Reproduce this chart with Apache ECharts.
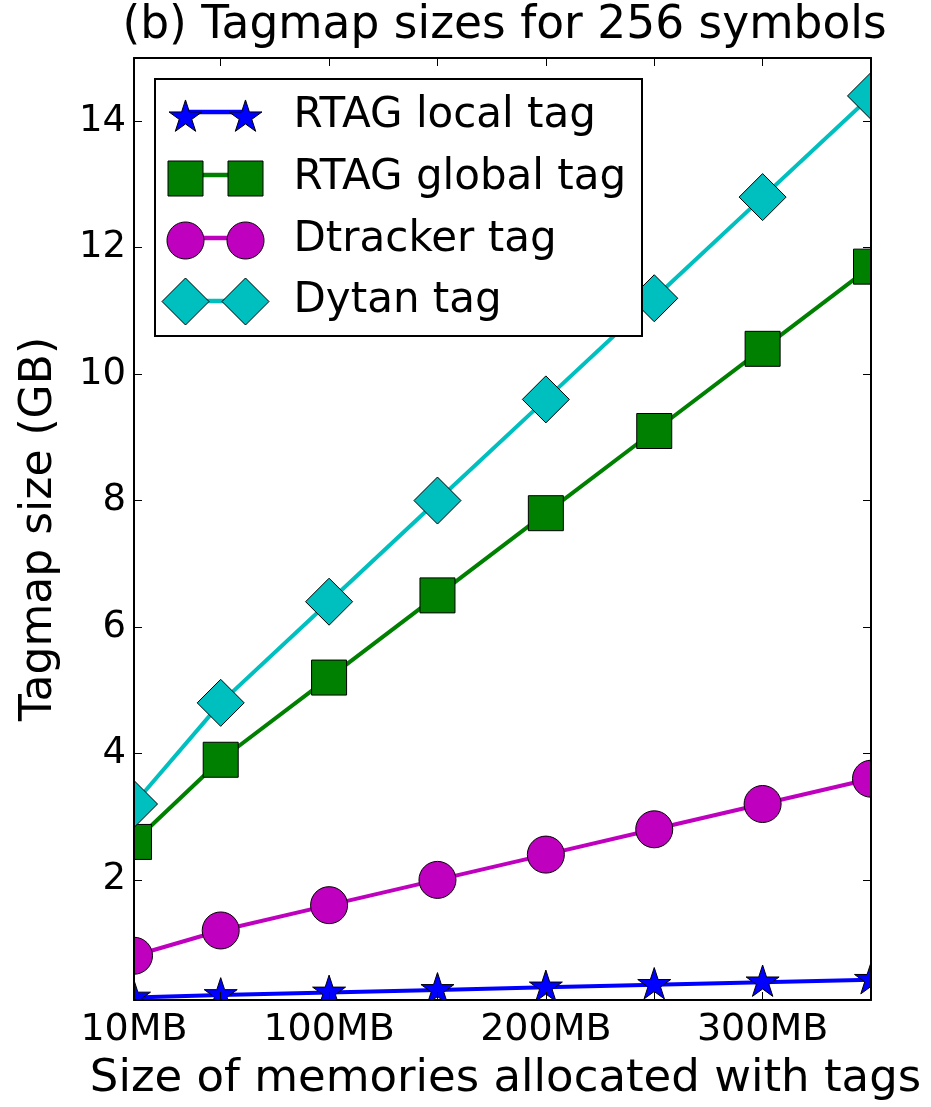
<!DOCTYPE html>
<html>
<head>
<meta charset="utf-8">
<script src="https://cdn.jsdelivr.net/npm/echarts@6/dist/echarts.min.js"></script>
<style>
html,body{margin:0;padding:0;background:#fff;}
#chart{width:931px;height:1107px;}
</style>
</head>
<body>
<div id="chart"></div>
<script>
// ---- data ----
const xValues = [10, 50, 100, 150, 200, 250, 300, 350];
const rtagLocal = [0.14, 0.18, 0.22, 0.26, 0.30, 0.34, 0.38, 0.42];
const rtagGlobal = [2.6, 3.9, 5.2, 6.5, 7.8, 9.1, 10.4, 11.7];
const dtracker = [0.8, 1.2, 1.6, 2.0, 2.4, 2.8, 3.2, 3.6];
const dytan = [3.2, 4.8, 6.4, 8.0, 9.6, 11.2, 12.8, 14.4];
const seriesNames = ['RTAG local tag', 'RTAG global tag', 'Dtracker tag', 'Dytan tag'];
const xTickValues = [50, 100, 150, 200, 250, 300];
const xLabelValues = [10, 100, 200, 300];
const xTickLabels = ['10MB', '100MB', '200MB', '300MB'];
const yTickValues = [2, 4, 6, 8, 10, 12, 14];
const yTickLabels = ['2', '4', '6', '8', '10', '12', '14'];
const titleText = '(b) Tagmap sizes for 256 symbols';
const xName = 'Size of memories allocated with tags';
const yName = 'Tagmap size (GB)';

// ---- layout / style ----
const W = 931, H = 1107;
const GL = 134, GR = 60, GT = 58, GB = 106;
const FONT = 'DejaVu Sans';
const colors = ['#0000ff', '#008000', '#bf00bf', '#00bfbf'];
const markerSizes = [33, 35, 37, 47];

function starPts(cx, cy, size) {
  const R = size / 1.902;
  const pts = [];
  for (let k = 0; k < 10; k++) {
    const ang = (-90 + 36 * k) * Math.PI / 180;
    const r = k % 2 === 0 ? R : R * 0.381966;
    pts.push([cx + r * Math.cos(ang), cy + r * Math.sin(ang)]);
  }
  return pts;
}
function rectPts(cx, cy, s) { const h = s / 2; return [[cx - h, cy - h], [cx + h, cy - h], [cx + h, cy + h], [cx - h, cy + h]]; }
function circPts(cx, cy, s) { const r = s / 2, pts = []; for (let k = 0; k < 48; k++) { const a = k / 48 * 2 * Math.PI; pts.push([cx + r * Math.cos(a), cy + r * Math.sin(a)]); } return pts; }
function diamPts(cx, cy, s) { const h = s / 2; return [[cx, cy - h], [cx + h, cy], [cx, cy + h], [cx - h, cy]]; }
const shapeFns = [starPts, rectPts, circPts, diamPts];

const starSym = (function () {
  const p = starPts(100, 100, 190.2);
  return 'path://M' + p.map(q => q[0].toFixed(2) + ' ' + q[1].toFixed(2)).join('L') + 'Z';
})();
const seriesSymbols = [starSym, 'rect', 'circle', 'diamond'];

// legend rows
const legBox = { x: 155, y: 79, w: 487, h: 257 };
const rowCenters = [112, 175, 238, 301];
const mark1X = 185, markGap = 60, textX = 293, barH = 4.5;

function pairIcon(i) {
  const a = shapeFns[i](0, 0, markerSizes[i]);
  const b = shapeFns[i](markGap, 0, markerSizes[i]);
  const all = a.concat(b);
  const minX = Math.min(...all.map(p => p[0])), maxX = Math.max(...all.map(p => p[0]));
  const minY = Math.min(...all.map(p => p[1])), maxY = Math.max(...all.map(p => p[1]));
  const f = pts => 'M' + pts.map(p => (p[0] - minX).toFixed(2) + ' ' + (p[1] - minY).toFixed(2)).join('L') + 'Z';
  return { path: 'path://' + f(a) + f(b), w: maxX - minX, h: maxY - minY, minX, minY };
}

const seriesData = [rtagLocal, rtagGlobal, dtracker, dytan];

const legends = [];
seriesNames.forEach((n, i) => {
  // connecting line of the legend key
  legends.push({
    orient: 'horizontal', left: mark1X, top: rowCenters[i] - barH / 2, padding: 0,
    itemWidth: markGap, itemHeight: barH, itemGap: 0, selectedMode: false, z: 12,
    formatter: function () { return ''; },
    textStyle: { fontSize: 1, color: 'rgba(0,0,0,0)' },
    data: [{ name: n, icon: 'path://M0 0H60V4.5H0Z', itemStyle: { color: colors[i], borderWidth: 0 } }]
  });
  const ic = pairIcon(i);
  const left = mark1X + ic.minX;
  const top = rowCenters[i] + ic.minY;
  const pad = textX - (left + ic.w + 5);
  legends.push({
    orient: 'horizontal', left: left, top: top, padding: 0,
    itemWidth: ic.w, itemHeight: ic.h, itemGap: 0, selectedMode: false, z: 13,
    textStyle: { fontSize: 42, fontFamily: FONT, color: '#000', padding: [0, 0, 0, pad] },
    data: [{ name: n, icon: ic.path, itemStyle: { color: colors[i], borderColor: '#000', borderWidth: 1 } }]
  });
});

const series = seriesNames.map((n, i) => ({
  name: n, type: 'line',
  data: xValues.map((x, k) => [x, seriesData[i][k]]),
  symbol: seriesSymbols[i], symbolSize: markerSizes[i], symbolKeepAspect: true,
  symbolOffset: i === 0 ? [0, -1.6] : [0, 0],
  showAllSymbol: true,
  lineStyle: { color: colors[i], width: 4 },
  itemStyle: { color: colors[i], borderColor: '#000', borderWidth: 1 },
  emphasis: { disabled: true }, z: 2
}));

const axisLineStyle = { color: '#000', width: 2 };
const tickStyle = { color: '#000', width: 1 };
const xLabelFmt = v => { const k = xLabelValues.indexOf(v); return k >= 0 ? xTickLabels[k] : ''; };
const yLabelFmt = v => { const k = yTickValues.indexOf(v); return k >= 0 ? yTickLabels[k] : ''; };

const covers = [
  { x: 0, y: 0, w: GL, h: H },
  { x: W - GR, y: 0, w: GR, h: H },
  { x: 0, y: 0, w: W, h: GT },
  { x: 0, y: H - GB, w: W, h: GB }
].map(r => ({ type: 'rect', z: 5, silent: true, shape: { x: r.x, y: r.y, width: r.w, height: r.h }, style: { fill: '#fff' } }));

const option = {
  animation: false,
  backgroundColor: '#fff',
  title: {
    text: titleText, left: (GL + W - GR) / 2 + 2, textAlign: 'center', top: 3, padding: 0, z: 10,
    textStyle: { fontSize: 45.5, fontWeight: 'normal', fontFamily: FONT, color: '#000' }
  },
  grid: { left: GL, right: GR, top: GT, bottom: GB, containLabel: false },
  legend: legends,
  xAxis: [{
    type: 'value', position: 'bottom', min: 10, max: 350, z: 10,
    name: xName, nameLocation: 'middle', nameGap: 57,
    nameTextStyle: { fontSize: 45, fontFamily: FONT, color: '#000', padding: [0, 0, 0, 6] },
    axisLine: { lineStyle: axisLineStyle },
    axisTick: { inside: true, length: 8, customValues: xTickValues, lineStyle: tickStyle },
    axisLabel: { customValues: xLabelValues, formatter: xLabelFmt, fontSize: 38, fontFamily: FONT, color: '#000', margin: 11 },
    splitLine: { show: false }
  }, {
    type: 'value', position: 'top', min: 10, max: 350, z: 10,
    axisLine: { lineStyle: axisLineStyle },
    axisTick: { inside: true, length: 8, customValues: xTickValues, lineStyle: tickStyle },
    axisLabel: { show: false },
    splitLine: { show: false }
  }],
  yAxis: [{
    type: 'value', position: 'left', min: 0.1, max: 15, z: 10,
    name: yName, nameLocation: 'middle', nameGap: 72, nameRotate: 90,
    nameTextStyle: { fontSize: 44, fontFamily: FONT, color: '#000' },
    axisLine: { show: true, lineStyle: axisLineStyle },
    axisTick: { show: true, inside: true, length: 8, customValues: yTickValues, lineStyle: tickStyle },
    axisLabel: { customValues: yTickValues, formatter: yLabelFmt, fontSize: 37, fontFamily: FONT, color: '#000', margin: 8 },
    splitLine: { show: false }
  }, {
    type: 'value', position: 'right', min: 0.1, max: 15, z: 10,
    axisLine: { show: true, lineStyle: axisLineStyle },
    axisTick: { show: true, inside: true, length: 8, customValues: yTickValues, lineStyle: tickStyle },
    axisLabel: { show: false },
    splitLine: { show: false }
  }],
  graphic: {
    elements: covers.concat([{
      type: 'rect', z: 11, silent: true,
      shape: { x: legBox.x, y: legBox.y, width: legBox.w, height: legBox.h },
      style: { fill: '#fff', stroke: '#000', lineWidth: 2 }
    }])
  },
  series: series
};

const chart = echarts.init(document.getElementById('chart'), null, { renderer: 'canvas' });
chart.setOption(option);
</script>
</body>
</html>
